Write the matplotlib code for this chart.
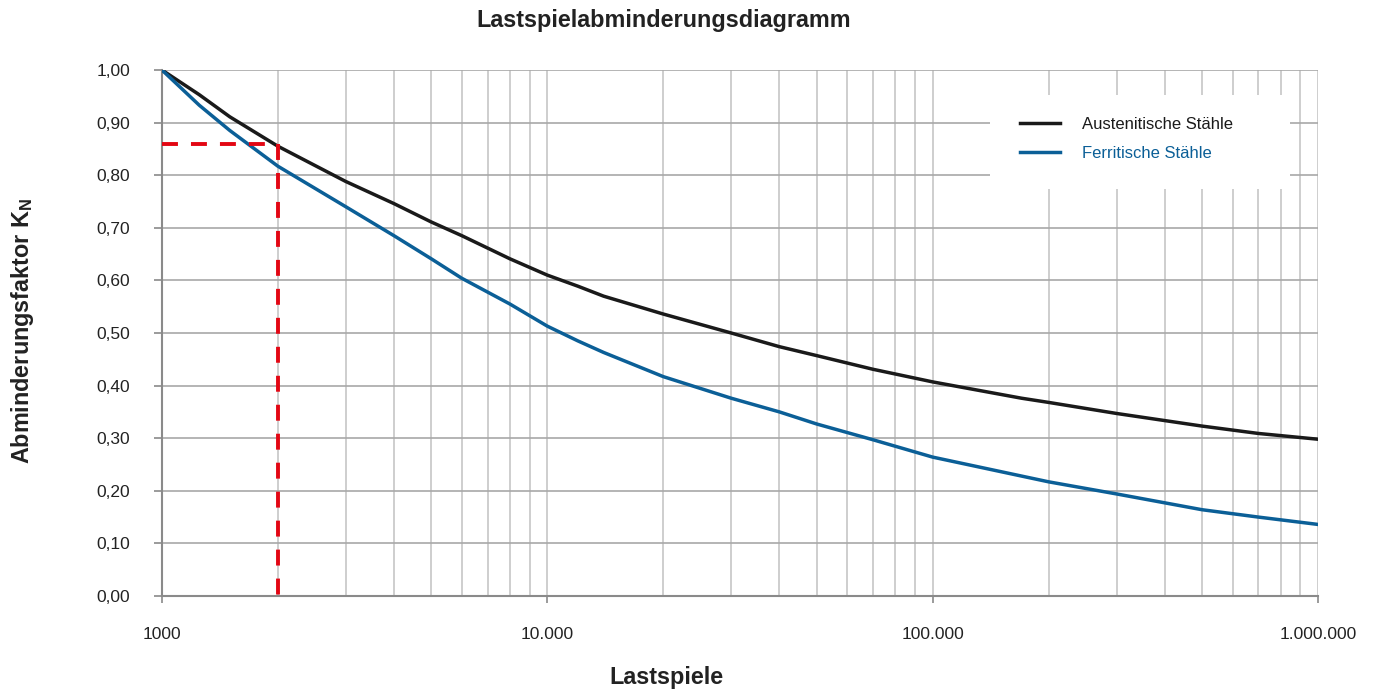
import matplotlib
matplotlib.use("Agg")
import matplotlib.pyplot as plt
from matplotlib.patches import Rectangle
from matplotlib.ticker import FixedLocator, FuncFormatter, NullFormatter

plt.rcParams['font.family'] = ['Liberation Sans', 'DejaVu Sans']

# Lastspiele (x) und Abminderungsfaktor (y)
lastspiele = [1000, 1250, 1500, 2000, 3000, 4000, 5000, 6000, 8000, 10000,
              12000, 14000, 20000, 30000, 40000, 50000, 70000, 100000, 170000,
              200000, 300000, 500000, 700000, 1000000]
austenitisch = [1.000, 0.953, 0.911, 0.855, 0.788, 0.746, 0.711, 0.685, 0.641,
                0.610, 0.589, 0.570, 0.536, 0.500, 0.474, 0.457, 0.431, 0.407,
                0.376, 0.368, 0.347, 0.323, 0.309, 0.298]
ferritisch = [1.000, 0.933, 0.885, 0.817, 0.740, 0.685, 0.641, 0.604, 0.555,
              0.513, 0.485, 0.463, 0.417, 0.376, 0.350, 0.327, 0.297, 0.264,
              0.228, 0.217, 0.194, 0.164, 0.150, 0.136]

# Ablesebeispiel
beispiel_n = 2000
beispiel_k = 0.86

y_ticks = [i / 10 for i in range(11)]
x_major = [1000, 10000, 100000, 1000000]
x_labels = ["1000", "10.000", "100.000", "1.000.000"]

c_black = "#1a1a1a"
c_blue = "#0b5f97"
c_red = "#e30613"


def x_fmt(v, pos):
    v = int(round(v))
    return x_labels[x_major.index(v)] if v in x_major else ""


fig = plt.figure(figsize=(13.77, 6.93), dpi=100)
ax = fig.add_axes([0.1176, 0.140, 0.8396, 0.759])

ax.set_xscale("log")
ax.set_xlim(1000, 1000000)
ax.set_ylim(0, 1)

# Gitter
ax.set_axisbelow(True)
ax.xaxis.set_major_locator(FixedLocator(x_major))
ax.xaxis.set_minor_locator(FixedLocator(
    [m * d for d in (1000, 10000, 100000) for m in range(2, 10)]))
ax.xaxis.set_minor_formatter(NullFormatter())
ax.xaxis.set_major_formatter(FuncFormatter(x_fmt))
ax.set_yticks(y_ticks)
ax.yaxis.set_major_formatter(FuncFormatter(lambda v, p: f"{v:.2f}".replace(".", ",")))
ax.grid(True, which="major", axis="y", color="#a8a8a8", lw=1.2)
ax.grid(True, which="both", axis="x", color="#c6c6c6", lw=1.2)

for s in ("top", "right"):
    ax.spines[s].set_visible(False)
for s in ("left", "bottom"):
    ax.spines[s].set_color("#8a8a8a")
    ax.spines[s].set_linewidth(1.5)

ax.tick_params(axis="y", which="major", length=6, width=1.2, color="#8a8a8a",
               pad=17, labelsize=12.5, labelcolor="#222222")
ax.tick_params(axis="x", which="major", length=5, width=1.2, color="#8a8a8a",
               pad=17, labelsize=12.5, labelcolor="#222222")
ax.tick_params(axis="x", which="minor", length=0)

# weisser Hintergrund der Legende
ax.add_patch(Rectangle((0.716, 0.774), 0.26, 0.178, transform=ax.transAxes,
                       facecolor="white", edgecolor="none", zorder=1.5))

ax.plot(lastspiele, austenitisch, color=c_black, lw=2.5, zorder=3,
        label="Austenitische Stähle")
ax.plot(lastspiele, ferritisch, color=c_blue, lw=2.5, zorder=3,
        label="Ferritische Stähle")

ax.plot([1000, beispiel_n], [beispiel_k, beispiel_k], color=c_red, lw=2.8,
        dashes=(4.1, 3.35), zorder=4, clip_on=False)
ax.plot([beispiel_n, beispiel_n], [beispiel_k, 0], color=c_red, lw=2.8,
        dashes=(4.1, 3.35), zorder=4, clip_on=False)

leg = ax.legend(loc="upper left", bbox_to_anchor=(0.735, 0.927), frameon=False,
                fontsize=12, handlelength=2.4, handletextpad=1.3,
                labelspacing=0.85, borderpad=0)
leg.set_zorder(5)
for txt, col in zip(leg.get_texts(), (c_black, c_blue)):
    txt.set_color(col)

fig.text(0.482, 0.970, "Lastspielabminderungsdiagramm", ha="center", va="center",
         fontsize=16.8, fontweight="bold", color="#222222")
fig.text(0.484, 0.022, "Lastspiele", ha="center", va="center",
         fontsize=16.8, fontweight="bold", color="#222222")
fig.text(0.016, 0.522, "Abminderungsfaktor K$_\\mathregular{N}$", ha="center",
         va="center", rotation=90, fontsize=16.8, fontweight="bold",
         color="#222222")

fig.savefig("out.png", dpi=100)
